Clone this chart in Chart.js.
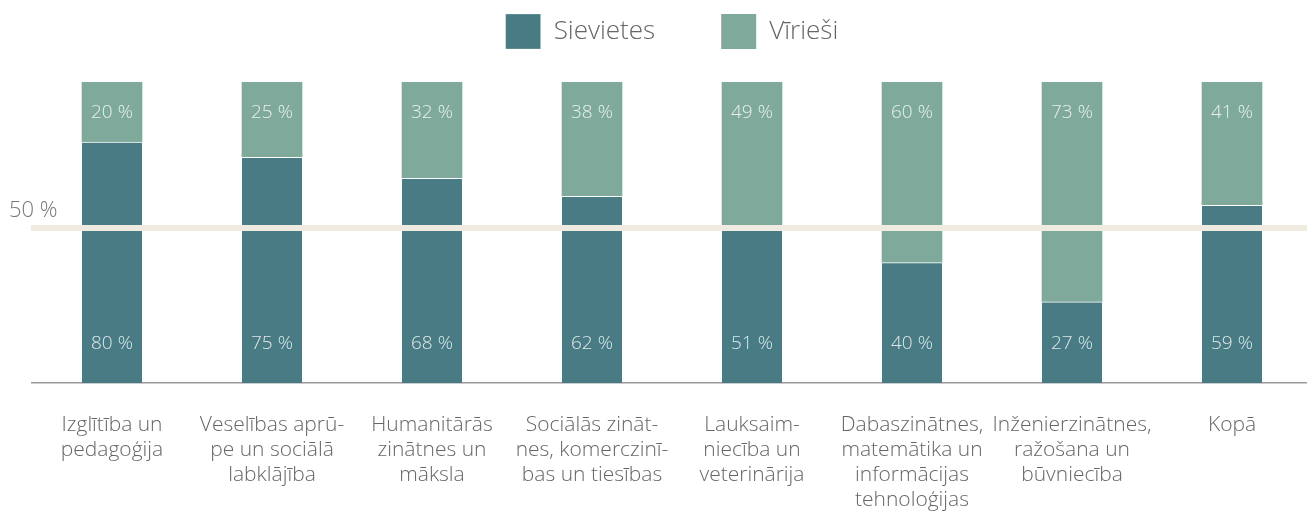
<!DOCTYPE html>
<html>
<head>
<meta charset="utf-8">
<script src="https://cdn.jsdelivr.net/npm/chart.js@4"></script>
<style>
  html, body { margin: 0; padding: 0; background: #fff; overflow: hidden; }
  #wrap { width: 1312px; height: 512px; position: relative; }
</style>
</head>
<body>
<div id="wrap"><canvas id="genderChart"></canvas></div>
<script>
const categories = [
  ['Izglītība un', 'pedagoģija'],
  ['Veselības aprū-', 'pe un sociālā', 'labklājība'],
  ['Humanitārās', 'zinātnes un', 'māksla'],
  ['Sociālās zināt-', 'nes, komerczinī-', 'bas un tiesības'],
  ['Lauksaim-', 'niecība un', 'veterinārija'],
  ['Dabaszinātnes,', 'matemātika un', 'informācijas', 'tehnoloģijas'],
  ['Inženierzinātnes,', 'ražošana un', 'būvniecība'],
  ['Kopā']
];
const women = [80, 75, 68, 62, 51, 40, 27, 59];
const men = [20, 25, 32, 38, 49, 60, 73, 41];
const refValue = 51.5;
const refLabel = '50 %';

const FONT = "'Open Sans', sans-serif";
const LEGEND_PAD = 66;
const TOP_SHIFT = 52;

// legend is taller than its items so the bars start lower
const legendSpace = {
  id: 'legendSpace',
  afterInit(chart) {
    const legend = chart.legend;
    const fit = legend.fit;
    legend.fit = function () {
      fit.call(this);
      this.height = 82 + TOP_SHIFT;
    };
  }
};

// white value labels inside the bars
const valueLabels = {
  id: 'valueLabels',
  afterDatasetsDraw(chart) {
    const ctx = chart.ctx;
    ctx.save();
    ctx.font = '300 19px ' + FONT;
    ctx.fillStyle = 'rgba(255,255,255,0.82)';
    ctx.textAlign = 'center';
    ctx.textBaseline = 'middle';
    chart.data.datasets.forEach(function (ds, i) {
      chart.getDatasetMeta(i).data.forEach(function (bar, j) {
        const y = i === 0 ? bar.base - 39 : bar.y + 31;
        ctx.fillText(ds.data[j] + ' %', bar.x, y);
      });
    });
    ctx.restore();
  }
};

// beige 50 % line drawn over the bars
const refLine = {
  id: 'refLine',
  afterDatasetsDraw(chart) {
    const ctx = chart.ctx;
    const y = chart.scales.y.getPixelForValue(refValue);
    ctx.save();
    ctx.strokeStyle = '#efebe1';
    ctx.lineWidth = 6;
    ctx.beginPath();
    ctx.moveTo(chart.chartArea.left - 1, y);
    ctx.lineTo(chart.width, y);
    ctx.stroke();
    ctx.font = '300 22px ' + FONT;
    ctx.fillStyle = '#777';
    ctx.textAlign = 'left';
    ctx.textBaseline = 'alphabetic';
    ctx.fillText(refLabel, 9, y - 11);
    ctx.restore();
  }
};

const ctx = document.getElementById('genderChart').getContext('2d');

const data = {
  labels: categories,
  datasets: [
    {
      label: 'Sievietes',
      data: women,
      backgroundColor: '#497b85',
      borderColor: '#ffffff',
      borderWidth: { top: 1, left: 0, right: 0, bottom: 0 },
      borderSkipped: false
    },
    {
      label: 'Vīrieši',
      data: men,
      backgroundColor: '#7faa9b',
      borderWidth: 0
    }
  ]
};

const config = {
  type: 'bar',
  data: data,
  options: {
    responsive: true,
    maintainAspectRatio: false,
    animation: false,
    layout: {
      padding: { left: 32, right: 0, top: -TOP_SHIFT, bottom: 0 }
    },
    datasets: {
      bar: { barThickness: 60 }
    },
    plugins: {
      legend: {
        position: 'top',
        labels: {
          boxWidth: 35,
          boxHeight: 35,
          padding: LEGEND_PAD,
          color: '#666',
          font: { family: FONT, size: 26, weight: 300 }
        }
      },
      tooltip: { enabled: false }
    },
    scales: {
      x: {
        stacked: true,
        grid: { display: false },
        border: { color: '#999', width: 1.5 },
        ticks: {
          color: '#666',
          padding: 21,
          maxRotation: 0,
          autoSkip: false,
          font: { family: FONT, size: 21, weight: 300, lineHeight: 1.2 }
        },
        afterFit: function (scale) { scale.height = 129; }
      },
      y: {
        stacked: true,
        display: false,
        min: 0,
        max: 100
      }
    }
  },
  plugins: [legendSpace, refLine, valueLabels]
};

const genderChart = new Chart(ctx, config);
</script>
</body>
</html>
